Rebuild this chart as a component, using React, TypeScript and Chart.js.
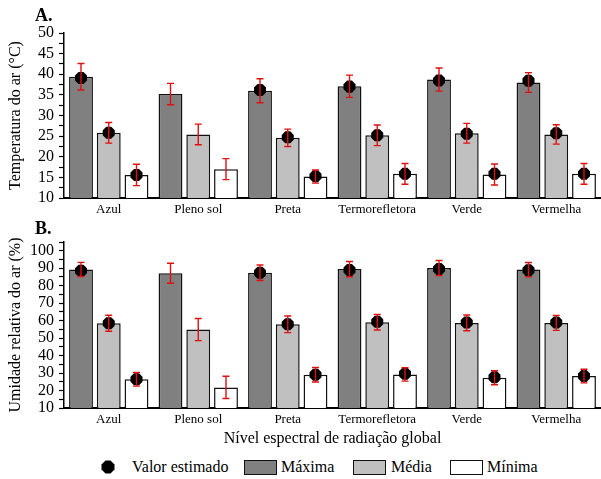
import React, { useEffect, useRef } from 'react';
import { Chart, registerables } from 'chart.js';

Chart.register(...registerables);

const FONT = "'Liberation Serif', 'Times New Roman', serif";

const categories = ['Azul', 'Pleno sol', 'Preta', 'Termorefletora', 'Verde', 'Vermelha'];

// Panel A - Temperatura do ar (°C)
const tempMax = [39.4, 35.2, 36.0, 37.1, 38.7, 38.0];
const tempMaxErr = [3.2, 2.6, 2.9, 2.7, 2.8, 2.4];
const tempMaxEst = [39.1, null, 36.2, 37.0, 38.5, 38.4];
const tempMed = [25.8, 25.4, 24.6, 25.2, 25.7, 25.4];
const tempMedErr = [2.5, 2.5, 2.1, 2.5, 2.4, 2.35];
const tempMedEst = [25.8, null, 24.7, 25.2, 25.6, 25.7];
const tempMin = [15.6, 17.0, 15.2, 15.85, 15.7, 15.85];
const tempMinErr = [2.6, 2.55, 1.6, 2.5, 2.55, 2.5];
const tempMinEst = [15.6, null, 15.3, 15.85, 15.85, 15.9];

// Panel B - Umidade relativa do ar (%)
const umMax = [89.3, 87.1, 87.4, 89.5, 90.1, 89.2];
const umMaxErr = [4.05, 5.7, 4.45, 4.35, 4.3, 4.1];
const umMaxEst = [88.6, null, 87.4, 89.0, 89.5, 88.8];
const umMed = [58.5, 54.9, 57.9, 59.1, 58.7, 58.7];
const umMedErr = [4.55, 6.35, 4.75, 4.45, 4.5, 4.3];
const umMedEst = [58.5, null, 57.9, 59.3, 58.9, 58.9];
const umMin = [26.4, 21.8, 29.0, 29.2, 27.3, 28.3];
const umMinErr = [3.9, 6.4, 4.15, 3.8, 4.0, 3.9];
const umMinEst = [26.4, null, 29.0, 29.6, 27.6, 28.3];

const seriesNames = ['Máxima', 'Média', 'Mínima'];
const seriesColors = ['#808080', '#c0c0c0', '#ffffff'];

const overlayPlugin = {
  id: 'overlay',
  afterDatasetsDraw(chart: any) {
    const ctx = chart.ctx;
    const yScale = chart.scales.y;
    ctx.save();
    chart.data.datasets.forEach((ds: any, di: number) => {
      const meta = chart.getDatasetMeta(di);
      meta.data.forEach((bar: any, i: number) => {
        const est = ds.estimates ? ds.estimates[i] : null;
        if (est != null) {
          const cy = yScale.getPixelForValue(est);
          const r = 6.5;
          ctx.beginPath();
          for (let k = 0; k < 8; k++) {
            const a = Math.PI / 8 + (k * Math.PI) / 4;
            const px = bar.x + r * Math.cos(a);
            const py = cy + r * Math.sin(a);
            if (k === 0) ctx.moveTo(px, py);
            else ctx.lineTo(px, py);
          }
          ctx.closePath();
          ctx.fillStyle = '#000';
          ctx.fill();
        }
        const err = ds.errors ? ds.errors[i] : null;
        const val = ds.data[i];
        if (err != null && val != null) {
          const yTop = yScale.getPixelForValue(val + err);
          const yBot = yScale.getPixelForValue(val - err);
          const cap = 3.5;
          ctx.strokeStyle = '#e01010';
          ctx.lineWidth = 1.4;
          ctx.beginPath();
          ctx.moveTo(bar.x, yTop);
          ctx.lineTo(bar.x, yBot);
          ctx.moveTo(bar.x - cap, yTop);
          ctx.lineTo(bar.x + cap, yTop);
          ctx.moveTo(bar.x - cap, yBot);
          ctx.lineTo(bar.x + cap, yBot);
          ctx.stroke();
        }
      });
    });
    ctx.restore();
  },
};

function makeConfig(
  values: number[][],
  errors: number[][],
  estimates: (number | null)[][],
  yMin: number,
  yMax: number,
  step: number,
  labelEvery: number,
  title: string,
  padTop: number
): any {
  return {
    type: 'bar',
    data: {
      labels: categories,
      datasets: values.map((v, k) => ({
        label: seriesNames[k],
        data: v,
        errors: errors[k],
        estimates: estimates[k],
        backgroundColor: seriesColors[k],
        borderColor: '#111',
        borderWidth: 1.5,
        categoryPercentage: 0.93,
        barPercentage: 0.86,
      })),
    },
    options: {
      animation: false,
      responsive: false,
      maintainAspectRatio: false,
      layout: { padding: { top: padTop, right: 0, left: 0, bottom: 0 } },
      plugins: { legend: { display: false }, tooltip: { enabled: false } },
      scales: {
        x: {
          grid: { display: false, drawTicks: false },
          border: { display: true, color: '#000', width: 2 },
          ticks: {
            font: { family: FONT, size: 13 },
            color: '#000',
            padding: 4,
            maxRotation: 0,
            autoSkip: false,
          },
          afterFit: (s: any) => {
            s.height = 22;
          },
        },
        y: {
          min: yMin,
          max: yMax,
          ticks: {
            stepSize: step,
            autoSkip: false,
            callback: (v: any) => (Math.abs(v % labelEvery) < 1e-6 && v <= 100 ? String(v) : ''),
            font: { family: FONT, size: 16 },
            color: '#000',
            padding: 5,
          },
          grid: {
            drawOnChartArea: false,
            drawTicks: true,
            tickLength: 5,
            tickColor: '#000',
            tickWidth: 1.2,
          },
          border: { display: true, color: '#000', width: 1.5 },
          title: {
            display: true,
            text: title,
            font: { family: FONT, size: 16 },
            color: '#000',
            padding: { top: 6, bottom: 0 },
          },
          afterFit: (s: any) => {
            s.width = 64;
          },
        },
      },
    },
    plugins: [overlayPlugin],
  };
}

export default function App() {
  const refA = useRef<HTMLCanvasElement>(null);
  const refB = useRef<HTMLCanvasElement>(null);

  useEffect(() => {
    const a = new Chart(
      refA.current as HTMLCanvasElement,
      makeConfig(
        [tempMax, tempMed, tempMin],
        [tempMaxErr, tempMedErr, tempMinErr],
        [tempMaxEst, tempMedEst, tempMinEst],
        10,
        50,
        2.5,
        5,
        'Temperatura do ar (°C)',
        33
      )
    );
    const b = new Chart(
      refB.current as HTMLCanvasElement,
      makeConfig(
        [umMax, umMed, umMin],
        [umMaxErr, umMedErr, umMinErr],
        [umMaxEst, umMedEst, umMinEst],
        10,
        105,
        5,
        10,
        'Umidade relativa do ar (%)',
        22
      )
    );
    return () => {
      a.destroy();
      b.destroy();
    };
  }, []);

  const text: React.CSSProperties = {
    position: 'absolute',
    fontFamily: FONT,
    fontSize: 16,
    lineHeight: '18px',
    color: '#000',
    whiteSpace: 'nowrap',
  };
  const box = (left: number, color: string): React.CSSProperties => ({
    position: 'absolute',
    left,
    top: 460,
    width: 33,
    height: 15,
    boxSizing: 'border-box',
    background: color,
    border: '1.5px solid #111',
  });

  return (
    <div
      style={{
        position: 'absolute',
        left: 0,
        top: 0,
        width: 601,
        height: 479,
        background: '#fff',
        overflow: 'hidden',
      }}
    >
      <canvas
        ref={refA}
        width={601}
        height={220}
        style={{ position: 'absolute', left: 0, top: 0, width: 601, height: 220 }}
      />
      <canvas
        ref={refB}
        width={601}
        height={210}
        style={{ position: 'absolute', left: 0, top: 220, width: 601, height: 210 }}
      />
      <div style={{ ...text, left: 35, top: 5, fontSize: 18, fontWeight: 'bold', lineHeight: '20px' }}>A.</div>
      <div style={{ ...text, left: 35, top: 218, fontSize: 18, fontWeight: 'bold', lineHeight: '20px' }}>B.</div>
      <div style={{ ...text, left: 64, width: 537, top: 429, textAlign: 'center' }}>
        Nível espectral de radiação global
      </div>
      <svg
        style={{ position: 'absolute', left: 101, top: 460 }}
        width={14}
        height={14}
        viewBox="-7 -7 14 14"
      >
        <polygon
          points="2.5,-6.5 6.5,-2.5 6.5,2.5 2.5,6.5 -2.5,6.5 -6.5,2.5 -6.5,-2.5 -2.5,-6.5"
          fill="#000"
        />
      </svg>
      <div style={{ ...text, left: 132, top: 458 }}>Valor estimado</div>
      <div style={box(244, '#808080')} />
      <div style={{ ...text, left: 281, top: 458 }}>Máxima</div>
      <div style={box(353, '#c0c0c0')} />
      <div style={{ ...text, left: 391, top: 458 }}>Média</div>
      <div style={box(450, '#ffffff')} />
      <div style={{ ...text, left: 487, top: 458 }}>Mínima</div>
    </div>
  );
}
